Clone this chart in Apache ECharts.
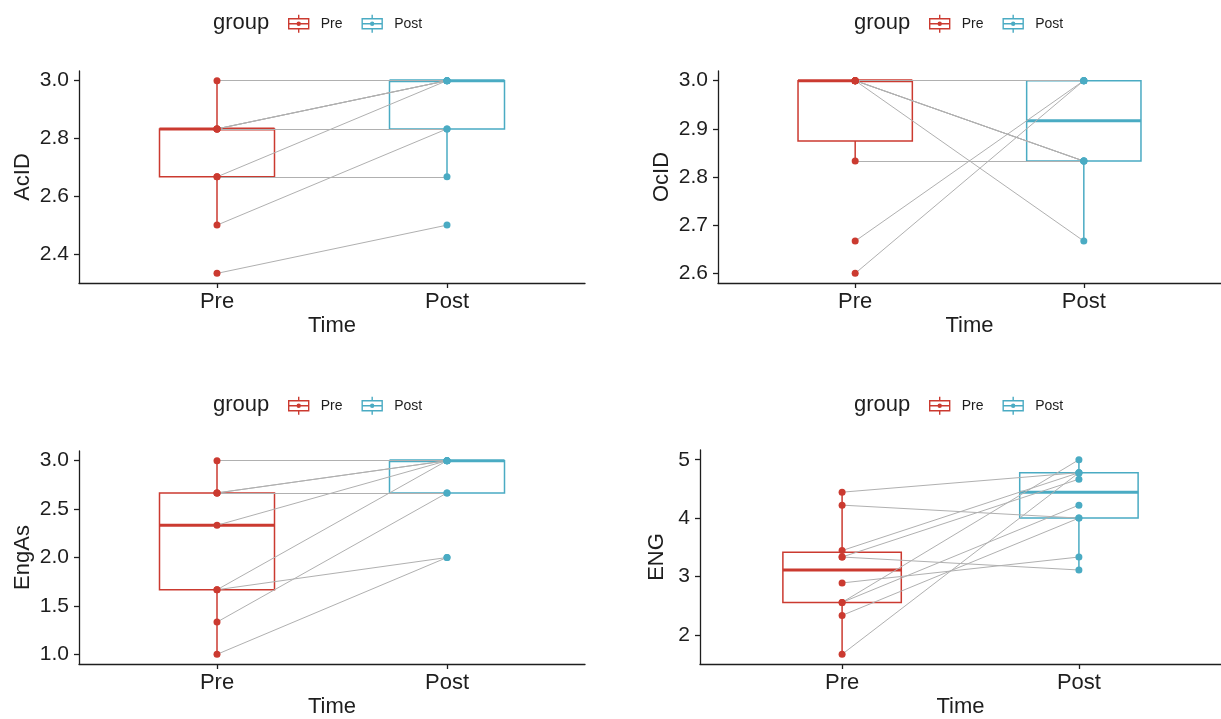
<!DOCTYPE html>
<html>
<head>
    <meta charset="UTF-8">
    <title>Pre / Post paired boxplots</title>
    <script src="https://cdn.jsdelivr.net/npm/echarts@6/dist/echarts.min.js"></script>
    <style>
        html, body { margin: 0; padding: 0; background: #fff; }
        #main { width: 1221px; height: 719px; }
    </style>
</head>
<body>
<div id="main"></div>
<script>
    // categories on the x axis
    var categories = ['Pre', 'Post'];
    var yNames = ['AcID', 'OcID', 'EngAs', 'ENG'];

    // paired values, one entry per subject (same order in Pre and Post)
    var acidPre  = [3.0, 2.833, 2.833, 2.833, 2.833, 2.667, 2.667, 2.5, 2.333];
    var acidPost = [3.0, 3.0, 3.0, 3.0, 2.833, 3.0, 2.667, 2.833, 2.5];

    var ocidPre  = [3.0, 3.0, 3.0, 3.0, 3.0, 3.0, 3.0, 2.833, 2.667, 2.6];
    var ocidPost = [3.0, 3.0, 3.0, 2.833, 2.833, 2.833, 2.667, 2.833, 3.0, 3.0];

    var engasPre  = [3.0, 2.667, 2.667, 2.667, 2.333, 1.667, 1.667, 1.333, 1.0];
    var engasPost = [3.0, 3.0, 3.0, 2.667, 3.0, 3.0, 2.0, 2.667, 2.0];

    var engPre  = [4.444, 4.222, 3.444, 3.333, 3.333, 2.889, 2.556, 2.556, 2.333, 1.667];
    var engPost = [4.778, 4.0, 4.778, 4.667, 3.111, 3.333, 5.0, 4.222, 4.0, 4.778];

    // y tick labels
    var acidTicks  = [2.4, 2.6, 2.8, 3.0];
    var ocidTicks  = [2.6, 2.7, 2.8, 2.9, 3.0];
    var engasTicks = [1.0, 1.5, 2.0, 2.5, 3.0];
    var engTicks   = [2, 3, 4, 5];

    var RED = '#cb3a30';
    var BLUE = '#4aabc3';
    var GREY = '#b0b0b0';
    var INK = '#1e1e1e';
    var FONT = 'Liberation Sans, Arial, sans-serif';

    // legend: [left of "group", vertical centre of the icons]
    var panels = [
        {pre: acidPre, post: acidPost, ticks: acidTicks, digits: 1,
         grid: {left: 79, top: 71, width: 506, height: 212}, nameGap: 45, legend: [208, 23]},
        {pre: ocidPre, post: ocidPost, ticks: ocidTicks, digits: 1,
         grid: {left: 718, top: 71, width: 505, height: 212}, nameGap: 45, legend: [849, 23]},
        {pre: engasPre, post: engasPost, ticks: engasTicks, digits: 1,
         grid: {left: 79, top: 451, width: 506, height: 213}, nameGap: 45, legend: [208, 405]},
        {pre: engPre, post: engPost, ticks: engTicks, digits: 0,
         grid: {left: 700, top: 450, width: 523, height: 214}, nameGap: 32, legend: [849, 405]}
    ];

    // type 7 quantile, like R
    function quantile(sorted, p) {
        var h = (sorted.length - 1) * p;
        var lo = Math.floor(h), hi = Math.ceil(h);
        return sorted[lo] + (h - lo) * (sorted[hi] - sorted[lo]);
    }

    function boxStats(vals) {
        var s = vals.slice().sort(function (a, b) { return a - b; });
        var q1 = quantile(s, 0.25), med = quantile(s, 0.5), q3 = quantile(s, 0.75);
        var iqr = q3 - q1;
        var lo = s.filter(function (v) { return v >= q1 - 1.5 * iqr - 1e-9; })[0];
        var his = s.filter(function (v) { return v <= q3 + 1.5 * iqr + 1e-9; });
        return [lo, q1, med, q3, his[his.length - 1]];
    }

    function renderBox(color) {
        return function (params, api) {
            var x = api.value(0);
            var half = api.size([0.25, 0])[0];
            var pLo = api.coord([x, api.value(1)]);
            var pQ1 = api.coord([x, api.value(2)]);
            var pMed = api.coord([x, api.value(3)]);
            var pQ3 = api.coord([x, api.value(4)]);
            var pHi = api.coord([x, api.value(5)]);
            var lw = 1.5;
            return {
                type: 'group',
                children: [
                    {type: 'line', shape: {x1: pQ1[0], y1: pQ1[1], x2: pLo[0], y2: pLo[1]},
                     style: {stroke: color, lineWidth: lw}},
                    {type: 'line', shape: {x1: pQ3[0], y1: pQ3[1], x2: pHi[0], y2: pHi[1]},
                     style: {stroke: color, lineWidth: lw}},
                    {type: 'rect', shape: {x: pQ3[0] - half, y: pQ3[1], width: half * 2, height: pQ1[1] - pQ3[1]},
                     style: {fill: '#fff', stroke: color, lineWidth: lw}},
                    {type: 'line', shape: {x1: pMed[0] - half, y1: pMed[1], x2: pMed[0] + half, y2: pMed[1]},
                     style: {stroke: color, lineWidth: 3}}
                ]
            };
        };
    }

    var legendIcon = 'path://M1,4 L21,4 L21,14 L1,14 Z M11,0 L11,4 M11,14 L11,18 M1,9 L21,9 M9.5,9 A1.5,1.5 0 1 1 12.5,9 A1.5,1.5 0 1 1 9.5,9 Z';

    var grids = [], xAxes = [], yAxes = [], series = [], legends = [], titles = [];

    panels.forEach(function (p, i) {
        var all = p.pre.concat(p.post);
        var dmin = Math.min.apply(null, all), dmax = Math.max.apply(null, all);
        var pad = (dmax - dmin) * 0.05;

        grids.push(p.grid);

        xAxes.push({
            gridIndex: i, type: 'value', min: 0.4, max: 2.6,
            name: 'Time', nameLocation: 'middle', nameGap: 32,
            nameTextStyle: {fontSize: 22, color: INK, fontFamily: FONT},
            axisLine: {show: true, lineStyle: {color: INK, width: 1.3}},
            axisTick: {show: true, customValues: [1, 2], length: 5, lineStyle: {color: INK, width: 1.3}},
            axisLabel: {
                customValues: [1, 2], margin: 8, fontSize: 22, color: INK, fontFamily: FONT,
                formatter: function (v) { return categories[Math.round(v) - 1]; }
            },
            splitLine: {show: false}
        });

        yAxes.push({
            gridIndex: i, type: 'value', min: dmin - pad, max: dmax + pad,
            name: yNames[i], nameLocation: 'middle', nameGap: p.nameGap,
            nameTextStyle: {fontSize: 22, color: INK, fontFamily: FONT},
            axisLine: {show: true, lineStyle: {color: INK, width: 1.3}},
            axisTick: {show: true, customValues: p.ticks, length: 5, lineStyle: {color: INK, width: 1.3}},
            axisLabel: {
                customValues: p.ticks, margin: 10, fontSize: 21, color: INK, fontFamily: FONT,
                formatter: function (v) { return v.toFixed(p.digits); }
            },
            splitLine: {show: false}
        });

        series.push({
            name: 'Pre', type: 'custom', xAxisIndex: i, yAxisIndex: i,
            renderItem: renderBox(RED), encode: {x: 0, y: [1, 2, 3, 4, 5]},
            itemStyle: {color: RED},
            data: [[1].concat(boxStats(p.pre))], silent: true
        });
        series.push({
            name: 'Post', type: 'custom', xAxisIndex: i, yAxisIndex: i,
            renderItem: renderBox(BLUE), encode: {x: 0, y: [1, 2, 3, 4, 5]},
            itemStyle: {color: BLUE},
            data: [[2].concat(boxStats(p.post))], silent: true
        });
        series.push({
            type: 'lines', coordinateSystem: 'cartesian2d', xAxisIndex: i, yAxisIndex: i,
            lineStyle: {color: GREY, width: 1, opacity: 1}, silent: true,
            data: p.pre.map(function (v, k) { return {coords: [[1, v], [2, p.post[k]]]}; })
        });
        series.push({
            name: 'Pre', type: 'scatter', xAxisIndex: i, yAxisIndex: i, symbolSize: 7,
            itemStyle: {color: RED, opacity: 1}, silent: true,
            data: p.pre.map(function (v) { return [1, v]; })
        });
        series.push({
            name: 'Post', type: 'scatter', xAxisIndex: i, yAxisIndex: i, symbolSize: 7,
            itemStyle: {color: BLUE, opacity: 1}, silent: true,
            data: p.post.map(function (v) { return [2, v]; })
        });

        titles.push({
            text: 'group', left: p.legend[0], top: p.legend[1] - 16,
            textStyle: {fontSize: 22, fontWeight: 'normal', color: INK, fontFamily: FONT}
        });
        legends.push({
            left: p.legend[0] + 75, top: p.legend[1] - 14, itemWidth: 22, itemHeight: 18, itemGap: 19,
            selectedMode: false,
            textStyle: {fontSize: 14, color: INK, fontFamily: FONT, padding: [0, 0, 0, 6]},
            data: [
                {name: 'Pre', icon: legendIcon, itemStyle: {color: 'rgba(0,0,0,0)', borderColor: RED, borderWidth: 1.4}},
                {name: 'Post', icon: legendIcon, itemStyle: {color: 'rgba(0,0,0,0)', borderColor: BLUE, borderWidth: 1.4}}
            ]
        });
    });

    var myChart = echarts.init(document.getElementById('main'));
    myChart.setOption({
        backgroundColor: '#ffffff',
        animation: false,
        title: titles,
        legend: legends,
        grid: grids,
        xAxis: xAxes,
        yAxis: yAxes,
        series: series
    });
</script>
</body>
</html>
